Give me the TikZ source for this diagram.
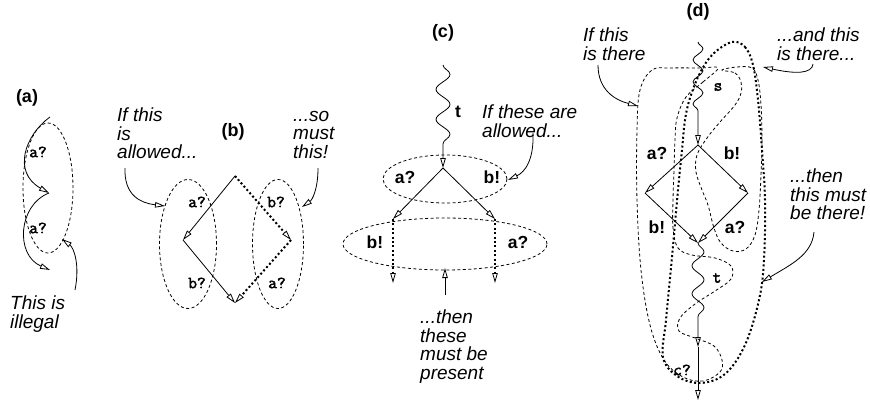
\documentclass[tikz,border=0pt]{standalone}
\usepackage{fontspec}
\setmainfont{Liberation Sans}
\newfontfamily\monob[FakeBold=2.2]{Latin Modern Mono}
\usetikzlibrary{arrows.meta,decorations.pathmorphing,shapes.geometric}
\begin{document}
\begin{tikzpicture}[x=1pt,y=-1pt,
  note/.style={font=\fontsize{19}{18.5}\selectfont\itshape, align=left, inner sep=0pt, anchor=north west},
  lbl/.style={font=\fontsize{17.5}{20}\selectfont\bfseries, inner sep=0pt},
  mono/.style={font=\fontsize{17}{20}\selectfont\monob, inner sep=0pt},
  ttl/.style={font=\fontsize{18}{20}\selectfont\bfseries, inner sep=0pt},
  hollow/.style={-{Triangle[open,length=10pt,width=5.5pt,line width=0.8pt]}},
  edge/.style={line width=0.8pt, hollow},
  dotl/.style={line width=2pt, dash pattern=on 2pt off 2.4pt, hollow},
  region/.style={line width=0.8pt, dash pattern=on 3pt off 2.5pt},
  bigregion/.style={line width=2pt, dash pattern=on 2pt off 2.4pt},
  oval/.style={ellipse, draw, region, inner sep=0pt}
]
\useasboundingbox (0,0) rectangle (870,404);

% ---------------- (a)
\node[ttl] (ta) at (27,98) {(a)};
\coordinate (a0) at (50,117);
\coordinate (a1) at (49,193);
\coordinate (a2) at (50,270);
\node[oval, minimum width=50pt, minimum height=130pt] (ea) at (48,188) {};
\draw[edge] (a0) .. controls (25,135) and (12,172) .. (a1);
\draw[edge] (a1) .. controls (18,205) and (15,255) .. (a2);
\node[mono] (la1) at (38,152) {a?};
\node[mono] (la2) at (38,228) {a?};
\node[note] (na) at (10,296) {This is\\illegal};
\coordinate (na0) at (75,290);
\coordinate (na1) at (62,239);
\draw[edge] (na0) .. controls (80,265) and (74,248) .. (na1);

% ---------------- (b)
\node[ttl] (tb) at (233,132) {(b)};
\coordinate (bt) at (235,176);
\coordinate (bl) at (183,240);
\coordinate (bb) at (235,303);
\coordinate (br) at (291,240);
\node[oval, minimum width=57pt, minimum height=129pt] (ebl) at (188,244) {};
\node[oval, minimum width=51pt, minimum height=129pt] (ebr) at (278,244) {};
\draw[edge] (bt) -- (bl);
\draw[edge] (bl) -- (bb);
\draw[dotl] (bt) -- (br);
\draw[dotl] (br) -- (bb);
\node[mono] (lb1) at (197,202) {a?};
\node[mono] (lb2) at (197,283) {b?};
\node[mono] (lb3) at (276,202) {b?};
\node[mono] (lb4) at (277,283) {a?};
\node[note] (nb1) at (117,108) {If this\\is\\allowed...};
\node[note] (nb2) at (293,111) {...so\\must\\this!};
\coordinate (nb1a) at (125,168);
\coordinate (nb1b) at (165,206);
\coordinate (nb2a) at (318,168);
\coordinate (nb2b) at (302,207);
\draw[edge] (nb1a) .. controls (124,195) and (140,203) .. (nb1b);
\draw[edge] (nb2a) .. controls (318,190) and (312,200) .. (nb2b);

% ---------------- (c)
\node[ttl] (tc) at (443,33) {(c)};
\coordinate (c0) at (443,65);
\coordinate (ca) at (443,168);
\coordinate (cl) at (393,219);
\coordinate (cr) at (495,219);
\coordinate (cl2) at (393,283);
\coordinate (cr2) at (495,283);
\node[oval, minimum width=124pt, minimum height=48pt] (ec1) at (445,179) {};
\node[oval, minimum width=204pt, minimum height=52pt] (ec2) at (445,244) {};
\draw[edge, decorate, decoration={snake, amplitude=7pt, segment length=30pt, post length=10pt}] (c0) -- (ca);
\node[lbl] (lct) at (458,112) {t};
\draw[edge] (ca) -- (cl);
\draw[edge] (ca) -- (cr);
\draw[dotl] (cl) -- (cl2);
\draw[dotl] (cr) -- (cr2);
\node[lbl] (lc1) at (405,177) {a?};
\node[lbl] (lc2) at (492,177) {b!};
\node[lbl] (lc3) at (375,242) {b!};
\node[lbl] (lc4) at (518,242) {a?};
\node[note] (nc1) at (482,105) {If these are\\allowed...};
\node[note] (nc2) at (420,310) {...then\\these\\must be\\present};
\coordinate (nc1a) at (533,133);
\coordinate (nc1b) at (508,180);
\draw[edge] (nc1a) .. controls (534,160) and (525,172) .. (nc1b);
\coordinate (nc2a) at (445,295);
\coordinate (nc2b) at (445,268);
\draw[edge] (nc2a) -- (nc2b);

% ---------------- (d)
\node[ttl] (td) at (698,12) {(d)};
\coordinate (d0) at (698,42);
\coordinate (dt) at (698,145);
\coordinate (dl) at (645,193);
\coordinate (dr) at (748,193);
\coordinate (db) at (698,243);
\coordinate (dc) at (698,347);
\coordinate (de) at (698,400);
% regions
\draw[region] plot[smooth cycle, tension=0.6] coordinates {
 (718,68) (703,82) (686,97) (677,118) (675,140) (674,170) (673,200) (673,228)
 (678,248) (692,255) (715,258) (731,266) (731,279) (715,291) (695,304) (680,318)
 (679,331) (695,338) (714,346) (722,360) (720,372) (703,381) (683,377) (664,360)
 (650,325) (641,270) (637,200) (637,130) (640,90) (652,70) (670,68) (700,68)};
\draw[region] plot[smooth cycle, tension=0.6] coordinates {
 (722,70) (735,73) (741,82) (741,93) (735,105) (720,122) (707,138) (697,155)
 (696,172) (702,190) (708,205) (714,228) (721,243) (733,251) (746,249) (755,235)
 (759,210) (761,175) (762,140) (761,105) (758,80) (752,68) (737,67)};
\draw[bigregion] plot[smooth cycle, tension=0.6] coordinates {
 (732,42) (745,47) (753,65) (758,100) (762,150) (765,200) (764,260) (759,300)
 (745,345) (725,374) (700,383) (677,376) (663,357) (666,320) (672,257) (678,190)
 (682,150) (685,120) (690,98) (700,73) (713,54)};
% paths
\draw[edge, decorate, decoration={snake, amplitude=5pt, segment length=22pt, post length=26pt}] (d0) -- (dt);
\draw[edge] (dt) -- (dl);
\draw[edge] (dt) -- (dr);
\draw[edge] (dl) -- (db);
\draw[edge] (dr) -- (db);
\draw[edge, decorate, decoration={snake, amplitude=6pt, segment length=28pt, post length=18pt}] (db) -- (dc);
\draw[edge] (dc) -- (de);
\node[mono] (lds) at (718,87) {s};
\node[lbl] (ld1) at (657,153) {a?};
\node[lbl] (ld2) at (732,153) {b!};
\node[lbl] (ld3) at (657,227) {b!};
\node[lbl] (ld4) at (735,227) {a?};
\node[mono] (ldt) at (717,278) {t};
\node[mono] (ldc) at (682,370) {c?};
\node[note] (nd1) at (583,28) {If this\\is there};
\node[note] (nd2) at (777,28) {...and this\\is there...};
\node[note] (nd3) at (790,169) {...then\\this must\\be there!};
\coordinate (nd1a) at (598,65);
\coordinate (nd1b) at (638,106);
\coordinate (nd2a) at (813,64);
\coordinate (nd2b) at (763,67);
\coordinate (nd3a) at (814,232);
\coordinate (nd3b) at (762,282);
\draw[edge] (nd1a) .. controls (598,90) and (615,100) .. (nd1b);
\draw[edge] (nd2a) .. controls (812,74) and (795,74) .. (nd2b);
\draw[edge] (nd3a) .. controls (812,255) and (790,265) .. (nd3b);
\end{tikzpicture}
\end{document}
